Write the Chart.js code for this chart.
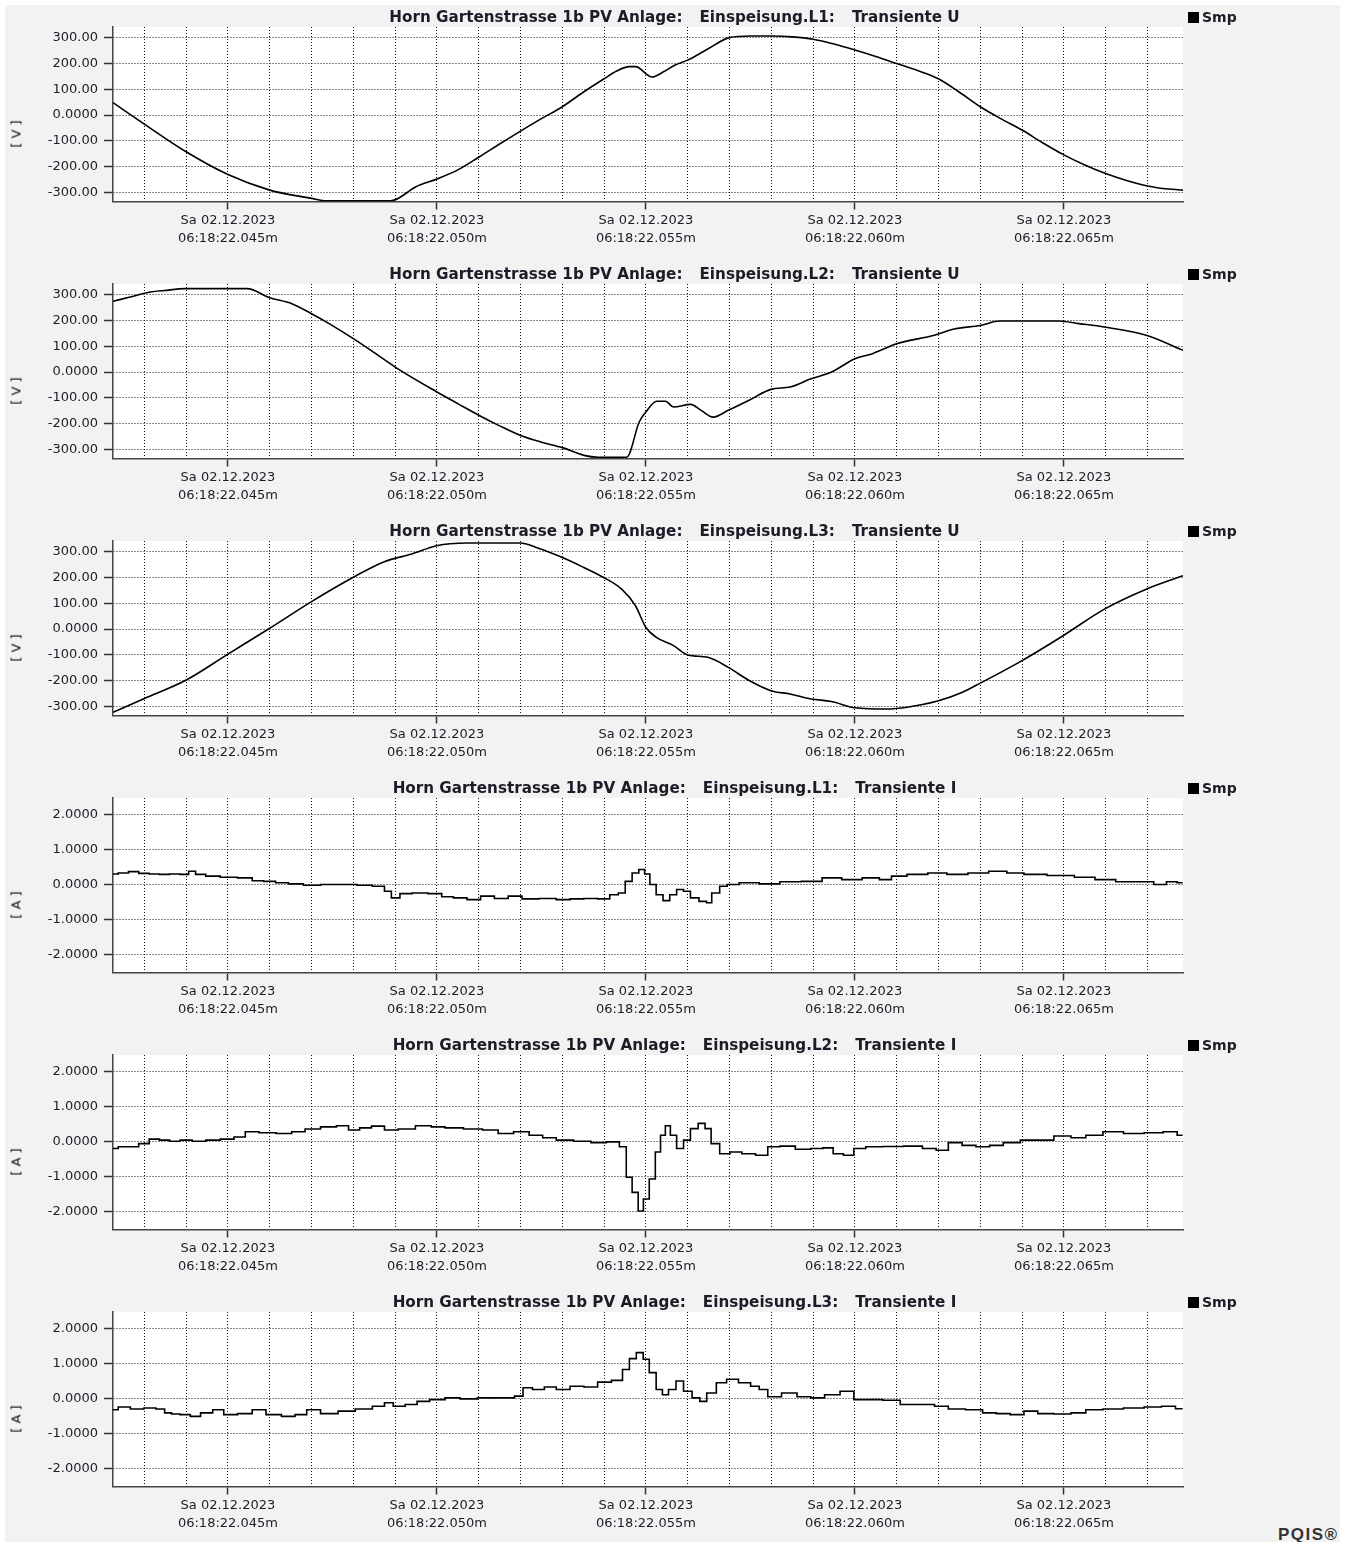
<!DOCTYPE html>
<html lang="de">
<head>
<meta charset="UTF-8">
<title>Horn Gartenstrasse 1b PV Anlage: Transiente U / I</title>
<script src="https://cdn.jsdelivr.net/npm/chart.js"></script>
<style>
  body { margin: 0; background: #fff; font-family: "DejaVu Sans", sans-serif; color: #1c1c28; }
  #page { position: relative; width: 1345px; height: 1542px; overflow: hidden; }
  #bg { position: absolute; left: 5px; top: 5px; width: 1335px; height: 1537px; background: #f2f2f2; }
  .panel { position: absolute; left: 0; width: 1345px; height: 257px; }
  .panel canvas { position: absolute; left: 0; top: 0; }
  .title { position: absolute; left: 2px; top: 8px; width: 1345px; text-align: center;
           font-weight: bold; font-size: 15.2px; line-height: 18px; white-space: pre; }
  .title span + span { margin-left: 17px; }
  .legend { position: absolute; left: 1188px; top: 9px; font-weight: bold; font-size: 14px; line-height: 16px; }
  .legend i { display: inline-block; width: 11px; height: 11px; background: #000; vertical-align: -1px; margin-right: 3px; }
  .unit { position: absolute; left: 16px; top: 134px; font-size: 13px; white-space: pre; color: #111;
          transform: translate(-50%, -50%) rotate(-90deg); }
  #brand { position: absolute; left: 1278px; top: 1525px; font-family: "Liberation Sans", sans-serif;
           font-weight: bold; font-size: 17px; letter-spacing: 1.5px; color: #333; }
</style>
</head>
<body>
<div id="page">
  <div id="bg"></div>
  <div id="brand">PQIS®</div>
</div>
<script>
// Zeitachse in ms (22.0xx s)
const xMin = 42.25, xMax = 67.85;
const xGridTicks = [43, 44, 45, 46, 47, 48, 49, 50, 51, 52, 53, 54, 55, 56, 57, 58, 59, 60, 61, 62, 63, 64, 65, 66, 67];
const xMajorTicks = [45, 50, 55, 60, 65];
const dateLabel = 'Sa 02.12.2023';
const timeLabels = ['06:18:22.045m', '06:18:22.050m', '06:18:22.055m', '06:18:22.060m', '06:18:22.065m'];

const uTicks = [-300, -200, -100, 0, 100, 200, 300];
const uTickLabels = ['-300.00', '-200.00', '-100.00', '0.0000', '100.00', '200.00', '300.00'];
const iTicks = [-2, -1, 0, 1, 2];
const iTickLabels = ['-2.0000', '-1.0000', '0.0000', '1.0000', '2.0000'];

const site = 'Horn Gartenstrasse 1b PV Anlage:';
const phases = ['Einspeisung.L1:', 'Einspeisung.L2:', 'Einspeisung.L3:'];
const seriesName = 'Smp';

// Spannung L1..L3 [V]
const timeU1 = [42.25, 43.0, 44.0, 45.0, 46.0, 47.0, 47.3, 48.9, 49.5, 50.0, 50.5, 51.0, 51.5, 52.0, 52.5, 53.0, 53.5, 54.0, 54.3, 54.6, 54.75, 55.15, 55.4, 55.7, 56.0, 56.5, 57.0, 57.5, 58.0, 58.5, 59.0, 59.5, 60.0, 60.5, 61.0, 61.5, 62.0, 62.5, 63.0, 63.5, 64.0, 64.5, 65.0, 65.5, 66.0, 66.5, 67.0, 67.5, 67.85];
const valU1 = [48, -35, -142, -230, -290, -322, -331, -331, -277, -247, -212, -163, -112, -62, -14, 32, 88, 140, 170, 187, 187, 147, 165, 193, 212, 257, 299, 305, 305, 302, 293, 274, 251, 226, 199, 172, 140, 88, 32, -15, -58, -108, -154, -193, -226, -253, -274, -286, -290];

const timeU2 = [42.25, 42.66, 43.15, 43.48, 43.98, 45.46, 46.0, 46.53, 47.0, 47.43, 48.0, 48.5, 49.0, 50.0, 50.5, 51.0, 51.5, 52.0, 52.5, 53.0, 53.52, 53.85, 54.54, 54.84, 55.0, 55.26, 55.47, 55.66, 56.07, 56.32, 56.61, 56.97, 57.47, 57.99, 58.45, 58.95, 59.44, 60.0, 60.42, 61.0, 61.9, 62.4, 63.0, 63.47, 64.87, 65.36, 65.97, 66.97, 67.85];
const valU2 = [273, 290, 309, 315, 322, 322, 287, 264, 225, 186, 129, 75, 19, -77, -122, -167, -208, -245, -271, -292, -322, -329, -329, -193, -154, -113, -113, -135, -125, -148, -174, -148, -109, -67, -58, -26, 0, 51, 71, 109, 142, 167, 180, 197, 197, 187, 174, 142, 84];

const timeU3 = [42.25, 43.0, 43.98, 45.0, 46.0, 47.0, 48.0, 48.74, 49.4, 49.99, 50.72, 52.0, 52.36, 52.99, 53.51, 53.99, 54.42, 54.75, 55.0, 55.25, 55.66, 56.0, 56.48, 56.97, 57.47, 57.99, 58.45, 58.95, 59.44, 60.0, 60.76, 61.25, 62.0, 62.56, 63.0, 64.0, 64.98, 65.97, 66.97, 67.85];
const valU3 = [-322, -268, -199, -97, 3, 106, 200, 260, 290, 322, 332, 332, 316, 277, 238, 199, 154, 90, 6, -32, -64, -100, -109, -148, -199, -238, -251, -270, -280, -304, -309, -302, -277, -245, -209, -122, -26, 77, 154, 206];

// Strom L1..L3 [A]
const timeI1 = [42.25, 42.50, 42.74, 42.99, 43.24, 43.48, 43.73, 43.98, 44.14, 44.31, 44.63, 45.00, 45.46, 45.70, 46.00, 46.28, 46.61, 47.00, 47.43, 47.92, 48.25, 48.66, 48.83, 48.99, 49.24, 49.57, 50.00, 50.23, 50.56, 50.88, 51.21, 51.54, 51.87, 52.20, 52.69, 53.02, 53.35, 53.68, 54.01, 54.26, 54.42, 54.59, 54.75, 54.91, 55.03, 55.16, 55.33, 55.49, 55.65, 55.82, 55.98, 56.15, 56.39, 56.51, 56.64, 56.89, 57.00, 57.46, 57.96, 58.45, 58.99, 59.44, 59.93, 60.42, 60.75, 61.00, 61.49, 62.00, 62.40, 63.01, 63.39, 63.88, 64.21, 64.98, 65.52, 65.97, 66.51, 66.97, 67.33, 67.58, 67.84];
const valI1 = [0.31, 0.34, 0.38, 0.33, 0.31, 0.30, 0.31, 0.30, 0.39, 0.30, 0.25, 0.22, 0.20, 0.12, 0.10, 0.06, 0.03, -0.01, 0.01, 0.01, -0.01, -0.04, -0.18, -0.37, -0.25, -0.23, -0.25, -0.34, -0.37, -0.42, -0.32, -0.39, -0.32, -0.40, -0.39, -0.42, -0.40, -0.39, -0.40, -0.28, -0.23, 0.10, 0.34, 0.44, 0.31, 0.01, -0.28, -0.45, -0.28, -0.13, -0.18, -0.37, -0.47, -0.51, -0.23, -0.04, 0.01, 0.06, 0.03, 0.09, 0.10, 0.20, 0.15, 0.20, 0.15, 0.25, 0.30, 0.34, 0.30, 0.34, 0.39, 0.34, 0.30, 0.27, 0.22, 0.15, 0.09, 0.09, 0.01, 0.09, 0.06];

const timeI2 = [42.25, 42.50, 42.74, 42.99, 43.24, 43.48, 43.73, 43.98, 44.31, 44.63, 45.00, 45.29, 45.54, 45.95, 46.36, 46.69, 47.00, 47.43, 47.76, 48.01, 48.29, 48.58, 48.91, 49.24, 49.73, 50.00, 50.39, 50.88, 51.30, 51.63, 52.04, 52.37, 52.69, 53.02, 53.52, 53.85, 54.26, 54.47, 54.59, 54.75, 54.88, 55.00, 55.16, 55.29, 55.41, 55.52, 55.65, 55.82, 55.98, 56.15, 56.35, 56.48, 56.64, 56.89, 57.13, 57.46, 57.79, 58.04, 58.37, 58.78, 59.11, 59.36, 59.60, 59.85, 60.10, 60.42, 60.92, 61.41, 61.82, 62.07, 62.40, 62.73, 63.06, 63.39, 63.71, 64.21, 64.54, 64.98, 65.36, 65.69, 66.18, 66.67, 67.17, 67.58, 67.84];
const valI2 = [-0.19, -0.14, -0.14, -0.05, 0.08, 0.05, 0.02, 0.05, 0.02, 0.05, 0.08, 0.14, 0.29, 0.26, 0.24, 0.29, 0.37, 0.43, 0.46, 0.34, 0.40, 0.45, 0.34, 0.37, 0.46, 0.43, 0.40, 0.37, 0.34, 0.24, 0.29, 0.19, 0.12, 0.05, 0.02, -0.02, 0.00, -0.14, -1.01, -1.44, -1.97, -1.63, -1.06, -0.29, 0.19, 0.46, 0.19, -0.19, 0.05, 0.38, 0.53, 0.38, -0.05, -0.34, -0.29, -0.34, -0.38, -0.14, -0.12, -0.21, -0.19, -0.17, -0.34, -0.38, -0.19, -0.14, -0.13, -0.12, -0.19, -0.24, -0.02, -0.10, -0.14, -0.10, -0.02, 0.05, 0.05, 0.17, 0.12, 0.19, 0.29, 0.24, 0.26, 0.29, 0.19];

const timeI3 = [42.25, 42.50, 42.83, 43.15, 43.40, 43.57, 43.73, 43.98, 44.22, 44.47, 44.80, 45.00, 45.46, 45.70, 46.12, 46.44, 46.77, 47.00, 47.43, 47.84, 48.25, 48.66, 48.83, 49.08, 49.40, 49.65, 50.00, 50.39, 50.72, 51.21, 51.71, 52.00, 52.12, 52.45, 52.69, 53.02, 53.35, 53.68, 54.01, 54.34, 54.54, 54.67, 54.87, 55.00, 55.16, 55.33, 55.46, 55.62, 55.82, 55.98, 56.23, 56.35, 56.56, 56.81, 57.05, 57.38, 57.63, 57.79, 58.04, 58.45, 58.78, 59.11, 59.44, 59.85, 60.10, 60.42, 60.92, 61.25, 61.74, 62.07, 62.40, 62.89, 63.22, 63.55, 63.88, 64.21, 64.54, 64.98, 65.36, 65.69, 66.18, 66.67, 67.17, 67.50, 67.84];
const valI3 = [-0.31, -0.23, -0.29, -0.26, -0.29, -0.40, -0.43, -0.45, -0.50, -0.40, -0.31, -0.45, -0.42, -0.31, -0.45, -0.50, -0.45, -0.31, -0.42, -0.35, -0.29, -0.21, -0.11, -0.21, -0.16, -0.07, -0.02, 0.03, 0.00, 0.03, 0.03, 0.08, 0.32, 0.27, 0.34, 0.27, 0.36, 0.34, 0.48, 0.53, 0.84, 1.15, 1.32, 1.13, 0.75, 0.27, 0.12, 0.27, 0.51, 0.22, 0.03, -0.07, 0.17, 0.46, 0.56, 0.46, 0.36, 0.27, 0.06, 0.17, 0.06, 0.03, 0.12, 0.22, -0.02, -0.02, -0.04, -0.16, -0.16, -0.21, -0.29, -0.31, -0.40, -0.42, -0.45, -0.35, -0.42, -0.43, -0.40, -0.31, -0.29, -0.26, -0.23, -0.21, -0.28];

const uRange = { min: -334, max: 340, ticks: uTicks, labels: uTickLabels, unit: '[ V ]', name: 'Transiente U' };
const iRange = { min: -2.5, max: 2.48, ticks: iTicks, labels: iTickLabels, unit: '[ A ]', name: 'Transiente I' };

const panels = [
  { phase: 0, range: uRange, t: timeU1, v: valU1, stepped: false },
  { phase: 1, range: uRange, t: timeU2, v: valU2, stepped: false },
  { phase: 2, range: uRange, t: timeU3, v: valU3, stepped: false },
  { phase: 0, range: iRange, t: timeI1, v: valI1, stepped: true },
  { phase: 1, range: iRange, t: timeI2, v: valI2, stepped: true },
  { phase: 2, range: iRange, t: timeI3, v: valI3, stepped: true }
];

// weisser Plotbereich
const plotBg = {
  id: 'plotBg',
  beforeDraw(chart) {
    const { ctx, chartArea: a } = chart;
    ctx.save();
    ctx.fillStyle = '#fff';
    ctx.fillRect(a.left, a.top, a.right - a.left, a.bottom - a.top);
    ctx.restore();
  }
};

const tickFont = { family: 'DejaVu Sans', size: 13, lineHeight: 1.38 };
const page = document.getElementById('page');

panels.forEach((p, n) => {
  const div = document.createElement('div');
  div.className = 'panel';
  div.style.top = (257 * n) + 'px';
  div.innerHTML =
    '<canvas width="1345" height="257"></canvas>' +
    '<div class="title"><span>' + site + '</span><span>' + phases[p.phase] + '</span><span>' + p.range.name + '</span></div>' +
    '<div class="legend"><i></i>' + seriesName + '</div>' +
    '<div class="unit">' + p.range.unit + '</div>';
  page.appendChild(div);

  new Chart(div.querySelector('canvas'), {
    type: 'line',
    data: {
      datasets: [{
        label: seriesName,
        data: p.t.map((t, i) => ({ x: t, y: p.v[i] })),
        borderColor: '#000',
        borderWidth: 1.6,
        pointRadius: 0,
        fill: false,
        stepped: p.stepped ? 'middle' : false,
        cubicInterpolationMode: p.stepped ? 'default' : 'monotone'
      }]
    },
    options: {
      responsive: false,
      animation: false,
      events: [],
      layout: { padding: { top: 27, right: 162, bottom: 0, left: 0 } },
      plugins: { legend: { display: false }, tooltip: { enabled: false } },
      scales: {
        x: {
          type: 'linear', min: xMin, max: xMax,
          afterFit: s => { s.height = 55.5; },
          afterBuildTicks: s => { s.ticks = xGridTicks.map(v => ({ value: v })); },
          ticks: {
            autoSkip: false, maxRotation: 0, padding: 2, color: '#1c1c28', font: tickFont,
            callback: v => {
              const k = xMajorTicks.indexOf(v);
              return k < 0 ? '' : [dateLabel, timeLabels[k]];
            }
          },
          grid: {
            color: '#111', lineWidth: 1, tickLength: 8, tickWidth: 1.5,
            tickColor: c => (c.tick && xMajorTicks.includes(c.tick.value)) ? '#333' : 'rgba(0,0,0,0)'
          },
          border: { display: true, color: '#444', width: 1.5, dash: [1, 2] }
        },
        y: {
          min: p.range.min, max: p.range.max,
          afterFit: s => { s.width = 113; },
          afterBuildTicks: s => { s.ticks = p.range.ticks.map(v => ({ value: v })); },
          ticks: {
            autoSkip: false, padding: 6, color: '#1c1c28', font: { family: 'DejaVu Sans', size: 13 },
            callback: v => p.range.labels[p.range.ticks.indexOf(v)]
          },
          grid: { color: '#111', lineWidth: 1, tickLength: 9, tickWidth: 1.5, tickColor: '#333' },
          border: { display: true, color: '#444', width: 1.5, dash: [1, 2] }
        }
      }
    },
    plugins: [plotBg]
  });
});
</script>
</body>
</html>
